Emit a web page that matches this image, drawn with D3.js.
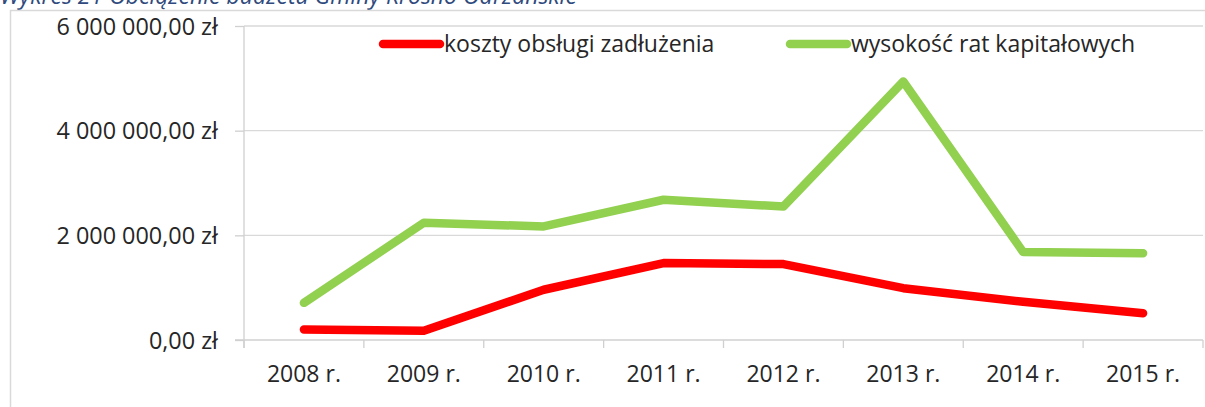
<!DOCTYPE html>
<html>
<head>
<meta charset="utf-8">
<script src="https://cdn.jsdelivr.net/npm/d3@7"></script>
<style>
  body { margin: 0; background: #fff; }
  svg { display: block; font-family: "Open Sans", sans-serif; }
</style>
</head>
<body>
<svg id="chart" width="1205" height="407"></svg>
<script>
// data
var years = ["2008 r.", "2009 r.", "2010 r.", "2011 r.", "2012 r.", "2013 r.", "2014 r.", "2015 r."];
var koszty = [200000, 175000, 960000, 1470000, 1450000, 990000, 730000, 510000];
var raty = [710000, 2240000, 2170000, 2680000, 2550000, 4940000, 1680000, 1660000];
var yTicks = [0, 2000000, 4000000, 6000000];
var seriesNames = ["koszty obsługi zadłużenia", "wysokość rat kapitałowych"];
var seriesColors = ["#ff0000", "#92d050"];

var svg = d3.select("#chart"),
  width = +svg.attr("width"),
  height = +svg.attr("height");

// plot area edges
var pLeft = 244, pRight = 1203, pTop = 26, pBottom = 340;

var x = d3.scaleBand().domain(years).range([pLeft, pRight]);
var y = d3.scaleLinear().domain([0, 6000000]).range([pBottom, pTop]);

var pl = d3.formatLocale({decimal: ",", thousands: " ", grouping: [3], currency: ["", " zł"]});
var fmt = pl.format("$,.2f");

// title, cut off at the top
svg.append("text")
  .attr("x", 0).attr("y", 4)
  .style("font-size", "23px")
  .style("font-style", "italic")
  .style("fill", "#2f4a7d")
  .text("Wykres 21 Obciążenie budżetu Gminy Krosno Odrzańskie");

// chart frame
svg.append("path")
  .attr("d", "M10.5," + height + "V10.5H" + width)
  .style("fill", "none")
  .style("stroke", "#d9d9d9")
  .style("stroke-width", 1.5);

// gridlines
svg.append("g").selectAll("line")
  .data(yTicks.slice(1))
  .enter().append("line")
  .attr("x1", pLeft).attr("x2", pRight)
  .attr("y1", function(d) { return y(d); })
  .attr("y2", function(d) { return y(d); })
  .style("stroke", "#d9d9d9")
  .style("stroke-width", 1.3);

// y axis
var yAxis = svg.append("g")
  .attr("transform", "translate(" + pLeft + ",0)")
  .call(d3.axisLeft(y).tickValues(yTicks).tickFormat(fmt).tickSize(9).tickPadding(17));
yAxis.select(".domain").remove();
yAxis.selectAll(".tick line").style("stroke", "#d0d0d0").style("stroke-width", 1.3);
yAxis.selectAll(".tick text")
  .style("font-family", "'Open Sans', sans-serif")
  .style("font-size", "23.4px")
  .style("fill", "#262626")
  .attr("dy", "0.35em");
svg.append("line")
  .attr("x1", pLeft).attr("x2", pLeft)
  .attr("y1", pTop).attr("y2", pBottom + 8)
  .style("stroke", "#d0d0d0").style("stroke-width", 1.3);

// x axis
svg.append("line")
  .attr("x1", pLeft - 9).attr("x2", pRight)
  .attr("y1", pBottom).attr("y2", pBottom)
  .style("stroke", "#d0d0d0").style("stroke-width", 1.3);
var bounds = years.map(function(d) { return x(d); }).concat([pRight]);
svg.append("g").selectAll("line")
  .data(bounds)
  .enter().append("line")
  .attr("x1", function(d) { return d; })
  .attr("x2", function(d) { return d; })
  .attr("y1", pBottom).attr("y2", pBottom + 8)
  .style("stroke", "#d0d0d0").style("stroke-width", 1.3);
svg.append("g").selectAll("text")
  .data(years)
  .enter().append("text")
  .attr("x", function(d) { return x(d) + x.bandwidth() / 2; })
  .attr("y", 382)
  .attr("text-anchor", "middle")
  .style("font-size", "23px")
  .style("fill", "#262626")
  .text(function(d) { return d; });

// lines
var line = d3.line()
  .x(function(d, i) { return x(years[i]) + x.bandwidth() / 2; })
  .y(function(d) { return y(d); });

[koszty, raty].forEach(function(s, i) {
  svg.append("path")
    .datum(s)
    .attr("d", line)
    .style("fill", "none")
    .style("stroke", seriesColors[i])
    .style("stroke-width", 8.5)
    .style("stroke-linecap", "round")
    .style("stroke-linejoin", "round");
});

// legend
var legendX = [383, 790];
seriesNames.forEach(function(name, i) {
  var g = svg.append("g").attr("transform", "translate(" + legendX[i] + ",44)");
  g.append("line")
    .attr("x1", 0).attr("x2", 57)
    .attr("y1", 0).attr("y2", 0)
    .style("stroke", seriesColors[i])
    .style("stroke-width", 8.5)
    .style("stroke-linecap", "round");
  g.append("text")
    .attr("x", 61).attr("y", 0).attr("dy", "0.35em")
    .style("font-size", "23px")
    .style("fill", "#262626")
    .text(name);
});
</script>
</body>
</html>
